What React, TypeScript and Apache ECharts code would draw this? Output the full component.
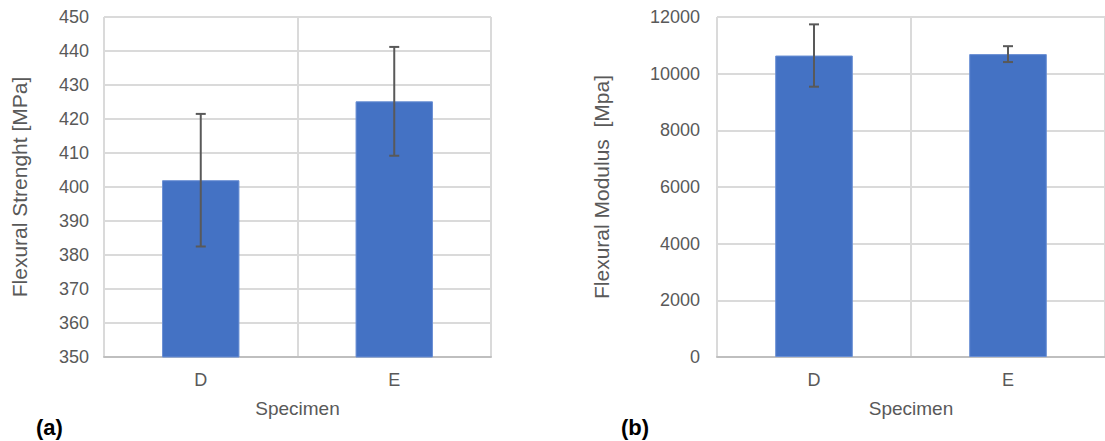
import React, { useEffect, useRef } from "react";
import * as echarts from "echarts";

const categories = ["D", "E"];
const strengthValues = [402, 425.2];
const strengthErrors = [19.5, 16];
const modulusValues = [10640, 10690];
const modulusErrors = [1100, 280];
const strengthTicks = { min: 350, max: 450, interval: 10 };
const modulusTicks = { min: 0, max: 12000, interval: 2000 };

const FONT = "'Liberation Sans', Arial, sans-serif";
const TEXT = "#595959";
const GRID = "#dadada";
const BAR = "#4472C4";

function errorData(vals: number[], errs: number[]) {
  return vals.map((v, i) => [i, v - errs[i], v + errs[i]]);
}

function renderError(params: any, api: any) {
  const x = api.value(0);
  const lo = api.coord([x, api.value(1)]);
  const hi = api.coord([x, api.value(2)]);
  const hw = 5;
  const style = { stroke: "#595959", lineWidth: 2 };
  return {
    type: "group",
    children: [
      { type: "line", shape: { x1: lo[0], y1: lo[1], x2: hi[0], y2: hi[1] }, style },
      { type: "line", shape: { x1: lo[0] - hw, y1: lo[1], x2: lo[0] + hw, y2: lo[1] }, style },
      { type: "line", shape: { x1: hi[0] - hw, y1: hi[1], x2: hi[0] + hw, y2: hi[1] }, style },
    ],
  };
}

function xAxis(gridIndex: number) {
  return {
    type: "category",
    gridIndex,
    data: categories,
    name: "Specimen",
    nameLocation: "middle",
    nameGap: 42,
    nameTextStyle: { color: TEXT, fontSize: 19, fontFamily: FONT },
    axisTick: { show: false },
    axisLine: { show: true, lineStyle: { color: "#bfbfbf", width: 2 } },
    axisLabel: { color: TEXT, fontSize: 18, fontFamily: FONT, margin: 14 },
    splitLine: { show: true, lineStyle: { color: GRID, width: 2 } },
  };
}

function yAxis(gridIndex: number, name: string, ticks: any, nameGap: number, margin: number) {
  return {
    type: "value",
    gridIndex,
    min: ticks.min,
    max: ticks.max,
    interval: ticks.interval,
    name,
    nameLocation: "middle",
    nameGap,
    nameTextStyle: { color: TEXT, fontSize: 21, fontFamily: FONT },
    axisLine: { show: false },
    axisTick: { show: false },
    axisLabel: {
      color: TEXT,
      fontSize: 18,
      fontFamily: FONT,
      margin,
      formatter: (v: number) => String(v),
    },
    splitLine: { show: true, lineStyle: { color: GRID, width: 2 } },
  };
}

export default function App() {
  const ref = useRef<HTMLDivElement>(null);
  useEffect(() => {
    if (!ref.current) return;
    const chart = echarts.init(ref.current, null, { renderer: "svg" });
    chart.setOption({
      animation: false,
      backgroundColor: "#ffffff",
      grid: [
        { left: 104, top: 17, width: 387, height: 340 },
        { left: 717, top: 17, width: 394, height: 340 },
      ],
      xAxis: [xAxis(0), xAxis(1)],
      yAxis: [
        yAxis(0, "Flexural Strenght [MPa]", strengthTicks, 74, 15),
        yAxis(1, "Flexural Modulus  [Mpa]", modulusTicks, 105, 17),
      ],
      series: [
        {
          type: "bar",
          xAxisIndex: 0,
          yAxisIndex: 0,
          data: strengthValues,
          barWidth: "40%",
          itemStyle: { color: BAR, borderColor: "#6a8fd4", borderWidth: 1 },
        },
        {
          type: "custom",
          xAxisIndex: 0,
          yAxisIndex: 0,
          data: errorData(strengthValues, strengthErrors),
          renderItem: renderError,
          z: 10,
        },
        {
          type: "bar",
          xAxisIndex: 1,
          yAxisIndex: 1,
          data: modulusValues,
          barWidth: "40%",
          itemStyle: { color: BAR, borderColor: "#6a8fd4", borderWidth: 1 },
        },
        {
          type: "custom",
          xAxisIndex: 1,
          yAxisIndex: 1,
          data: errorData(modulusValues, modulusErrors),
          renderItem: renderError,
          z: 10,
        },
      ],
      graphic: [
        {
          type: "text",
          left: 36,
          top: 416,
          style: { text: "(a)", fill: "#000", font: `bold 22px ${FONT}` },
        },
        {
          type: "text",
          left: 621,
          top: 416,
          style: { text: "(b)", fill: "#000", font: `bold 22px ${FONT}` },
        },
      ],
    });
    return () => chart.dispose();
  }, []);
  return (
    <div
      ref={ref}
      style={{ position: "fixed", left: 0, top: 0, width: 1105, height: 441 }}
    />
  );
}
